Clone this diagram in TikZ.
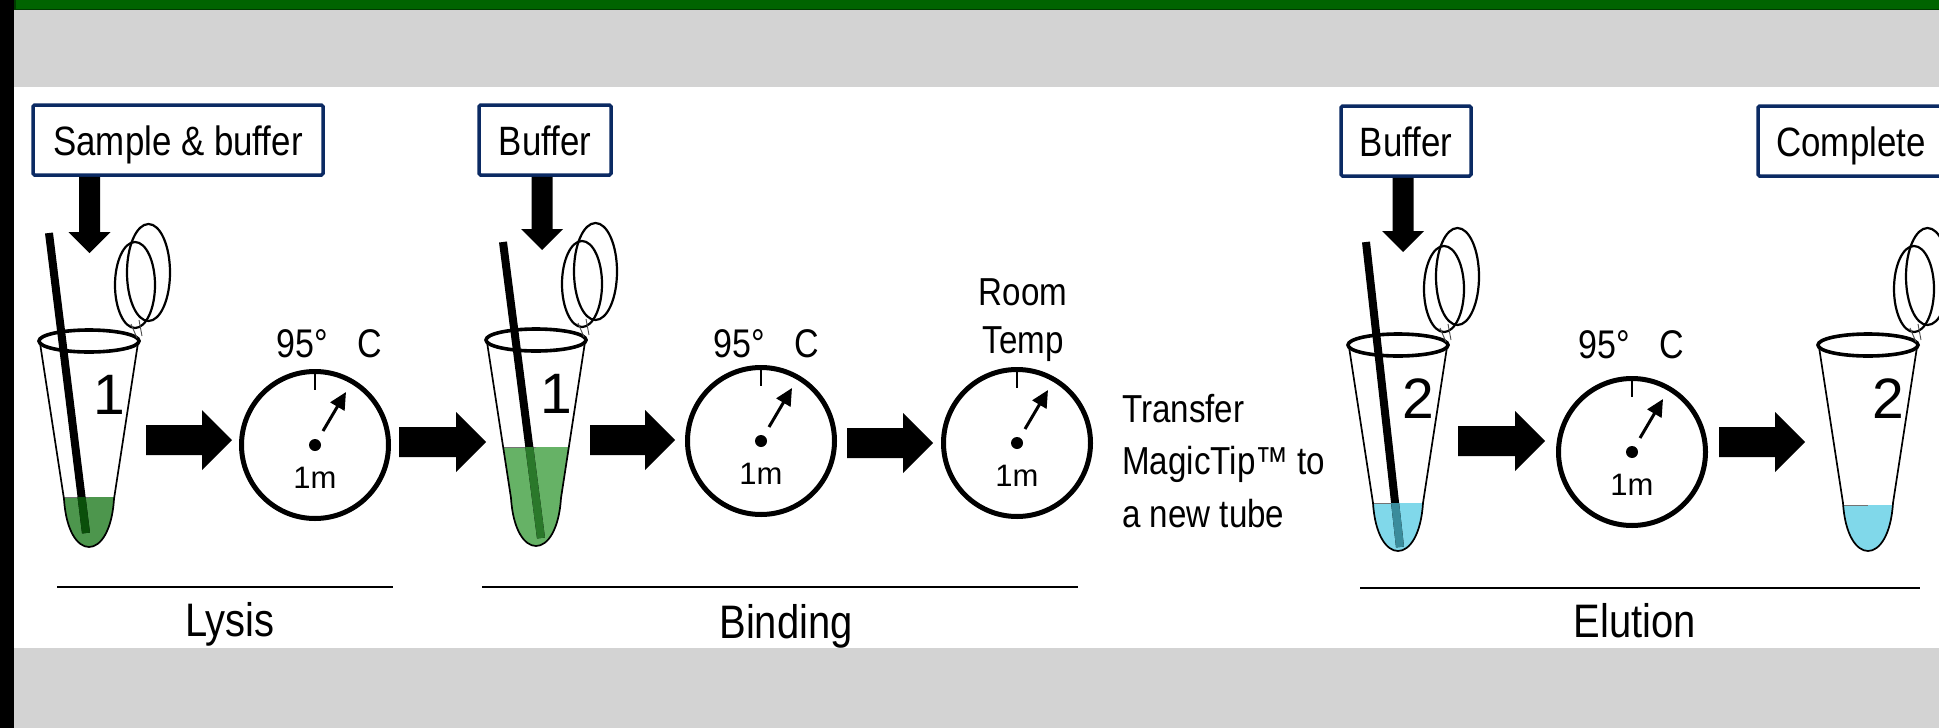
\documentclass[tikz,border=0pt]{standalone}
\usepackage{fontspec}
\setmainfont{Liberation Sans}[FakeStretch=0.85]
\newfontfamily\digitfont{Liberation Sans}
\usetikzlibrary{arrows.meta,calc}

\definecolor{navy}{HTML}{0B2A63}
\definecolor{bandgray}{HTML}{D3D3D3}
\definecolor{topgreen}{HTML}{006400}
\definecolor{topgreenedge}{HTML}{003A00}
\definecolor{lysisgreen}{HTML}{4D964D}
\definecolor{lysisdark}{HTML}{0A4F0A}
\definecolor{bindgreen}{HTML}{66B266}
\definecolor{binddark}{HTML}{2A782A}
\definecolor{elublue}{HTML}{80D8EA}
\definecolor{eludark}{HTML}{3A8C9C}

\tikzset{
  label box/.style={draw=navy, line width=3.5pt, fill=white, rounded corners=1.5pt,
    inner sep=0pt, text height=30pt, text depth=0pt, minimum height=70pt,
    font=\fontsize{41}{49}\selectfont},
  timer/.style={circle, draw, line width=5pt, minimum size=147pt, inner sep=0pt},
  temp text/.style={anchor=base west, inner sep=0pt, font=\fontsize{40}{48}\selectfont},
  time text/.style={anchor=base, inner sep=0pt, font=\digitfont\fontsize{31}{36}\selectfont},
  tube label/.style={inner sep=0pt, font=\digitfont\fontsize{57}{62}\selectfont},
  side text/.style={inner sep=0pt, font=\fontsize{39}{47}\selectfont},
  section text/.style={anchor=base, inner sep=0pt, font=\fontsize{47}{56}\selectfont},
  section rule/.style={line width=2.5pt},
  tube inside/.style={insert path={(-49,2) -- (-25,158) .. controls (-21,222) and (21,222) .. (25,158) -- (49,2) -- cycle}},
  tube wall/.style={line width=1.7pt},
  tube rim/.style={line width=3.6pt},
  tube cap/.style={line width=2.2pt},
  tip stick/.style={line width=8pt},
}

% horizontal block arrow from #1 to #2 (height taken from #1)
\newcommand\hblock[2]{%
  \fill let \p1=(#1), \p2=(#2) in
    (\x1,{\y1+15pt}) -- ({\x2-30pt},{\y1+15pt}) -- ({\x2-30pt},{\y1+30pt}) -- (\x2,\y1)
    -- ({\x2-30pt},{\y1-30pt}) -- ({\x2-30pt},{\y1-15pt}) -- (\x1,{\y1-15pt}) -- cycle;}

% downward block arrow from #1 to the tip #2
\newcommand\vblock[2]{%
  \fill let \p1=(#1), \p2=(#2) in
    ({\x1-10.5pt},\y1) -- ({\x1-10.5pt},{\y2+21pt}) -- ({\x1-21pt},{\y2+21pt}) -- (\x1,\y2)
    -- ({\x1+21pt},{\y2+21pt}) -- ({\x1+10.5pt},{\y2+21pt}) -- ({\x1+10.5pt},\y1) -- cycle;}

% tube: #1 rim centre, #2 liquid level, #3 liquid colour, #4 number, #5 label name
\newcommand\drawtube[5]{%
  \begin{scope}[shift={(#1)}]
    \begin{scope}
      \clip[tube inside];
      \fill[#3] (-60,#2) rectangle (60,230);
    \end{scope}
    \draw[line width=1pt, black!55] ({-49+24*(#2-2)/156},#2) -- (0,#2);
    \draw[tube wall] (-49,2) -- (-25,158) .. controls (-21,222) and (21,222) .. (25,158) -- (49,2);
    \draw[tube rim] (0,0) ellipse [x radius=50pt, y radius=11pt];
    \draw[tube cap] (59.5,-68.5) ellipse [x radius=21.5pt, y radius=48.5pt];
    \draw[tube cap] (46,-56) ellipse [x radius=20pt, y radius=43pt];
    \draw[line width=0.9pt, black!70] (42,-17) -- (48,-3);
    \draw[line width=0.9pt, black!70] (50,-21) -- (53,-5);
    \node[tube label] (#5) at (20,54) {#4};
  \end{scope}}

% MagicTip stick: #1 rim centre, #2 liquid level, #3 colour under liquid, #4 top, #5 bottom
\newcommand\drawtip[5]{%
  \begin{scope}[shift={(#1)}]
    \draw[tip stick] (#4) -- (#5);
    \begin{scope}
      \clip[tube inside];
      \clip (-60,#2) rectangle (60,230);
      \draw[tip stick, #3] (#4) -- (#5);
    \end{scope}
  \end{scope}}

% heating / waiting timer: #1 name, #2 centre, #3 time
\newcommand\steptimer[3]{%
  \node[timer] (#1) at (#2) {};
  \begin{scope}[shift={(#1.center)}]
    \draw[line width=2.5pt] (0,-73) -- (0,-55);
    \fill (0,0) circle [radius=6pt];
    \draw[line width=3pt, -{Triangle[length=17pt,width=16pt]}] (8,-14) -- (31,-53);
    \node[time text] (#1t) at (0,43) {#3};
  \end{scope}}

\begin{document}
\begin{tikzpicture}[x=1pt, y=-1pt]
\useasboundingbox (0,0) rectangle (1939,728);
\clip (0,0) rectangle (1939,728);

% page frame
\fill[white] (0,0) rectangle (1939,728);
\fill[bandgray] (14,9) rectangle (1939,87);
\fill[bandgray] (14,648) rectangle (1939,728);
\filldraw[fill=topgreen, draw=topgreenedge, line width=1.5pt] (14.75,-5) rectangle (1950,9.25);
\fill[black] (0,0) rectangle (14,728);

% reagent boxes
\node[label box, minimum width=290pt] (box1) at (178,140) {Sample \& buffer};
\node[label box, minimum width=132pt] (box2) at (545,140) {Buffer};
\node[label box, minimum width=130pt] (box3) at (1406,141) {Buffer};
\node[label box, minimum width=186pt] (box4) at (1851,141) {Complete};

% tubes
\drawtube{89,341}{156}{lysisgreen}{1}{lab1}
\drawtube{536,340}{107}{bindgreen}{1}{lab2}
\drawtube{1398,345}{158}{elublue}{2}{lab3}
\drawtube{1868,345}{160}{elublue}{2}{lab4}
\drawtip{89,341}{156}{lysisdark}{-40,-108}{-3,192}
\drawtip{536,340}{107}{binddark}{-33,-98}{5,198}
\drawtip{1398,345}{158}{eludark}{-32,-103}{2,202}

% additions into the tubes
\coordinate (d1) at (89.5,253);
\coordinate (d2) at (542,250);
\coordinate (d3) at (1403,252);
\vblock{box1.south -| d1}{d1}
\vblock{box2.south -| d2}{d2}
\vblock{box3.south -| d3}{d3}

% timers
\steptimer{tm1}{315,445}{1m}
\steptimer{tm2}{761,441}{1m}
\steptimer{tm3}{1017,443}{1m}
\steptimer{tm4}{1632,452}{1m}

\node[temp text] (c1) at (276,357) {95°\hspace{30pt}C};
\node[temp text] (c2) at (713,357) {95°\hspace{30pt}C};
\node[temp text] (c4) at (1578,358) {95°\hspace{30pt}C};
\node[side text, anchor=base] (rt1) at (1023,305) {Room};
\node[side text, anchor=base] (rt2) at (1023,353) {Temp};

\node[side text, anchor=base west] (tr1) at (1122,422) {Transfer};
\node[side text, anchor=base west] (tr2) at (1122,474) {MagicTip™ to};
\node[side text, anchor=base west] (tr3) at (1122,527) {a new tube};

% process arrows
\coordinate (a1s) at (146,440);
\coordinate (a2s) at (399,442);
\coordinate (a2e) at (486,442);
\coordinate (a3s) at (590,440);
\coordinate (a4s) at (847,443);
\coordinate (a5s) at (1458,441);
\coordinate (a6s) at (1719,442);
\coordinate (a6e) at (1805,442);
\hblock{a1s}{$(tm1.west)+(-7,0)$}
\hblock{a2s}{a2e}
\hblock{a3s}{$(tm2.west)+(-10,0)$}
\hblock{a4s}{$(tm3.west)+(-8,0)$}
\hblock{a5s}{$(tm4.west)+(-11,0)$}
\hblock{a6s}{a6e}

% stage labels
\draw[section rule] (57,587) -- (393,587);
\draw[section rule] (482,587) -- (1078,587);
\draw[section rule] (1360,588) -- (1920,588);
\node[section text] (lys) at (230,636) {Lysis};
\node[section text] (bind) at (786,638) {Binding};
\node[section text] (elu) at (1635,637) {Elution};
\end{tikzpicture}
\end{document}
